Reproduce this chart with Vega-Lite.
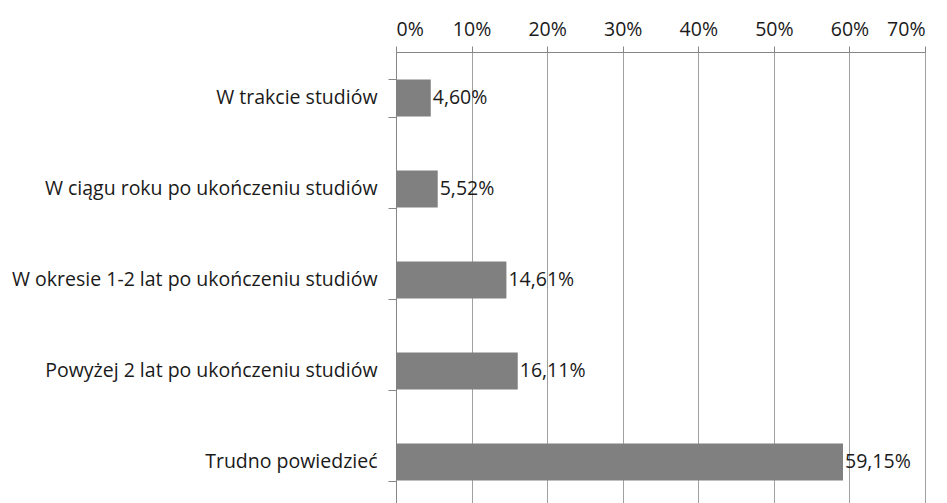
{
  "$schema": "https://vega.github.io/schema/vega-lite/v6.json",
  "width": 529,
  "height": 451,
  "autosize": "none",
  "padding": {"left": 396, "top": 52, "right": 22, "bottom": 0},
  "background": "white",
  "config": {
    "view": {"stroke": null},
    "locale": {"number": {"decimal": ",", "thousands": " ", "grouping": [3], "currency": ["", " zł"]}},
    "font": "Open Sans"
  },
  "data": {
    "values": [
      {"kategoria": "W trakcie studiów", "wartosc": 0.046},
      {"kategoria": "W ciągu roku po ukończeniu studiów", "wartosc": 0.0552},
      {"kategoria": "W okresie 1-2 lat po ukończeniu studiów", "wartosc": 0.1461},
      {"kategoria": "Powyżej 2 lat po ukończeniu studiów", "wartosc": 0.1611},
      {"kategoria": "Trudno powiedzieć", "wartosc": 0.5915}
    ]
  },
  "encoding": {
    "y": {
      "field": "kategoria",
      "type": "nominal",
      "sort": null,
      "title": null,
      "scale": {"paddingInner": 0.593, "paddingOuter": 0.2745, "align": 0.55},
      "axis": {
        "orient": "left",
        "domainColor": "#868686",
        "tickColor": "#868686",
        "tickSize": 8,
        "tickBand": "extent",
        "labelPadding": 11,
        "labelFont": "Open Sans",
        "labelFontSize": 19.5,
        "labelColor": "#1a1a1a",
        "labelLimit": 400,
        "grid": false
      }
    },
    "x": {
      "field": "wartosc",
      "type": "quantitative",
      "title": null,
      "scale": {"domain": [0, 0.7], "nice": false},
      "axis": {
        "orient": "top",
        "format": ".0%",
        "values": [0, 0.1, 0.2, 0.3, 0.4, 0.5, 0.6, 0.7],
        "domainColor": "#868686",
        "tickColor": "#868686",
        "tickSize": 6,
        "gridColor": "#a0a0a0",
        "grid": true,
        "labelPadding": 7,
        "labelFont": "Open Sans",
        "labelFontSize": 19.5,
        "labelColor": "#1a1a1a"
      }
    }
  },
  "layer": [
    {"mark": {"type": "bar", "color": "#808080"}},
    {
      "mark": {"type": "text", "align": "left", "baseline": "middle", "dx": 2, "font": "Open Sans", "fontSize": 19.5, "color": "#1a1a1a"},
      "encoding": {"text": {"field": "wartosc", "type": "quantitative", "format": ".2%"}}
    }
  ]
}
